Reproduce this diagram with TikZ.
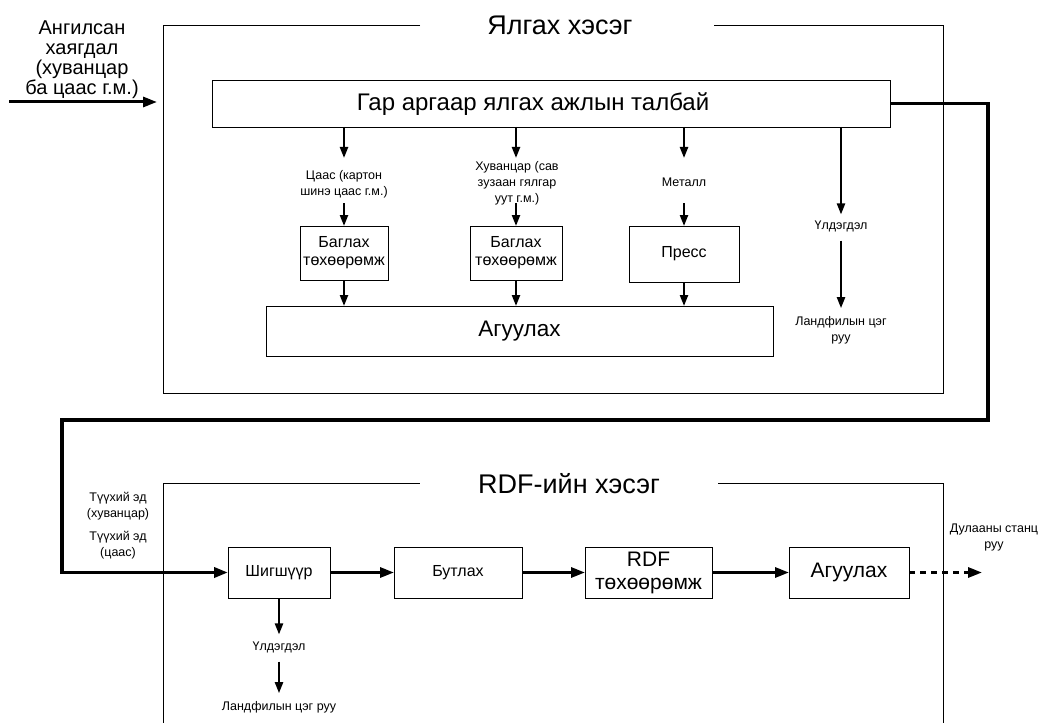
\documentclass[tikz,border=0pt]{standalone}
\usepackage{fontspec}
\setmainfont{Liberation Sans}
\usetikzlibrary{arrows.meta,calc}
\begin{document}
\begin{tikzpicture}[x=1pt,y=-1pt,
  every node/.style={inner sep=0pt, outer sep=0pt},
  box/.style={draw=black, line width=0.8pt, fill=white},
  frame/.style={draw=black, line width=0.8pt},
  small/.style={align=center, font=\fontsize{12.5}{16}\selectfont},
  mid/.style={align=center, font=\fontsize{16}{18}\selectfont},
  large/.style={align=center, font=\fontsize{21}{23}\selectfont},
  arr/.style={line width=2.2pt, -{Triangle[length=11pt,width=8pt]}},
  bigarr/.style={line width=3pt, -{Triangle[length=14pt,width=10pt]}},
  route/.style={line width=3.5pt},
]
\useasboundingbox (0,0) rectangle (1040,722);

% ---------- sorting section ----------
\draw[frame] (420,25) -| (163,393) -| (943,25) -- (714,25);
\node[font=\fontsize{27}{30}\selectfont] (title1) at (560,25) {Ялгах хэсэг};

\node[align=center, font=\fontsize{20}{20}\selectfont] (input) at (82,60)
  {Ангилсан\\хаягдал\\(хуванцар\\ба цаас г.м.)};
\coordinate (inbeg) at (9,102);
\coordinate (inend) at (157,102);
\draw[bigarr] (inbeg) -- (inend);

\node[box, minimum width=678pt, minimum height=47pt] (main) at (551,103.5) {};
\node[font=\fontsize{24}{26}\selectfont] (mainlbl) at (533,104) {Гар аргаар ялгах ажлын талбай};

\node[box, mid, minimum width=88pt, minimum height=54pt] (b1) at (344,253) {Баглах\\төхөөрөмж};
\node[box, mid, minimum width=92pt, minimum height=54pt] (b2) at (516,253) {Баглах\\төхөөрөмж};
\node[box, mid, minimum width=110pt, minimum height=56pt] (b3) at (684,254) {Пресс};
\node[box, font=\fontsize{22.5}{24}\selectfont, minimum width=507pt, minimum height=50pt] (store1) at (519.5,331) {Агуулах};

\node[small] (l1) at (344,184) {Цаас (картон\\шинэ цаас г.м.)};
\node[small] (l2) at (517,183) {Хуванцар (сав\\зузаан гялгар\\уут г.м.)};
\node[small] (l3) at (684,182) {Металл};

\draw[arr] (main.south -| b1) -- ++(0,31);
\draw[arr] (main.south -| b2) -- ++(0,31);
\draw[arr] (main.south -| b3) -- ++(0,31);
\draw[arr] ($(b1.north)+(0,-23)$) -- (b1.north);
\draw[arr] ($(b2.north)+(0,-23)$) -- (b2.north);
\draw[arr] ($(b3.north)+(0,-23)$) -- (b3.north);
\draw[arr] (b1.south) -- (b1.south |- store1.north);
\draw[arr] (b2.south) -- (b2.south |- store1.north);
\draw[arr] (b3.south) -- (b3.south |- store1.north);

\coordinate (rx) at (841,0);
\node[small] (rem1) at (841,226) {Үлдэгдэл};
\node[small] (land1) at (841,330) {Ландфилын цэг\\руу};
\draw[arr] (main.south -| rx) -- ($(rem1.north)+(0,-6)$);
\draw[arr] ($(rem1.south)+(0,9)$) -- ($(land1.north)+(0,-8)$);

% ---------- link between the sections ----------
\coordinate (r1) at (988,420);
\coordinate (r2) at (62,420);

% ---------- RDF section ----------
\draw[frame] (163,730) |- (420,483);
\draw[frame] (718,483) -| (943,730);
\node[font=\fontsize{27}{30}\selectfont] (title2) at (569,484) {RDF-ийн хэсэг};

\node[small] (raw1) at (118,506) {Түүхий эд\\(хуванцар)};
\node[small] (raw2) at (118,545) {Түүхий эд\\(цаас)};

\node[box, mid, minimum width=102pt, minimum height=51pt] (sieve) at (279,572.5) {Шигшүүр};
\node[box, mid, minimum width=128pt, minimum height=51pt] (crush) at (458,572.5) {Бутлах};
\node[box, large, minimum width=127pt, minimum height=51pt] (rdf) at (648.5,572.5) {RDF\\төхөөрөмж};
\node[box, large, minimum width=120pt, minimum height=51pt] (store2) at (849,572.5) {Агуулах};

\draw[route, -{Triangle[length=14pt,width=10pt]}] (main.east) -| (r1) -- (r2) |- (sieve.west);
\draw[bigarr] (sieve.east) -- (crush.west);
\draw[bigarr] (crush.east) -- (rdf.west);
\draw[bigarr] (rdf.east) -- (store2.west);
\coordinate (heatend) at (982,572.5);
\draw[bigarr, dash pattern=on 6pt off 5pt] (store2.east) -- (heatend);
\node[small] (heat) at (994,537) {Дулааны станц\\руу};

\node[small] (rem2) at (279,647) {Үлдэгдэл};
\node[small] (land2) at (279,707) {Ландфилын цэг руу};
\draw[arr] (sieve.south) -- ($(rem2.north)+(0,-7)$);
\draw[arr] ($(rem2.south)+(0,9)$) -- ($(land2.north)+(0,-8)$);
\end{tikzpicture}
\end{document}
